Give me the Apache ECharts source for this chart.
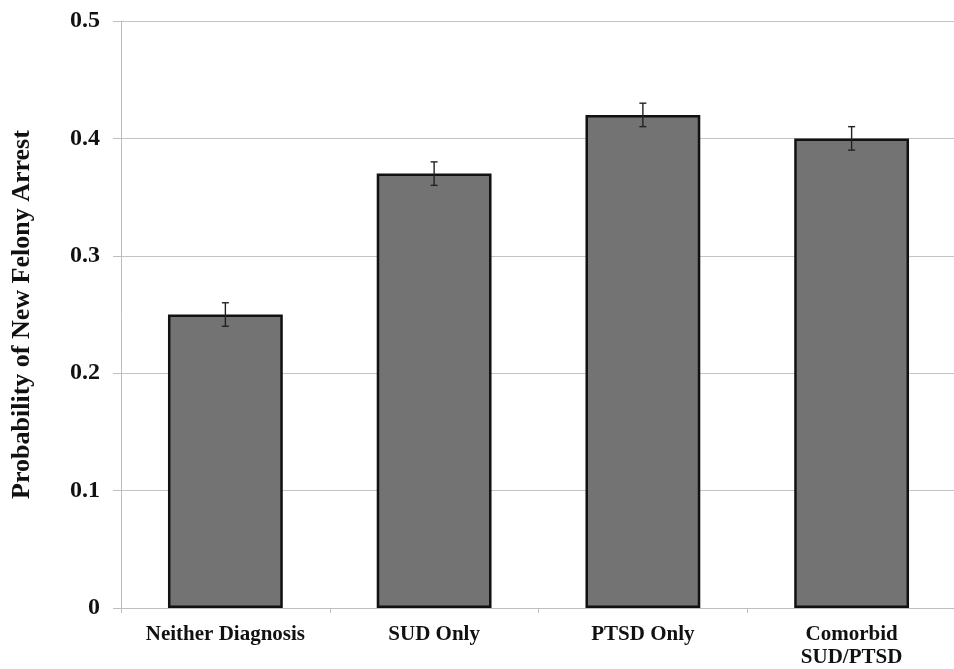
<!DOCTYPE html>
<html><head><meta charset="utf-8">
<script src="https://cdn.jsdelivr.net/npm/echarts@6/dist/echarts.min.js"></script>
<style>html,body{margin:0;padding:0;background:#fff}#c{width:954px;height:669px}</style>
</head><body><div id="c"></div>
<script>
const categories = ['Neither Diagnosis', 'SUD Only', 'PTSD Only', 'Comorbid\nSUD/PTSD'];
const probabilities = [0.25, 0.37, 0.42, 0.40];
const errors = [0.01, 0.01, 0.01, 0.01];
const yTicks = [0, 0.1, 0.2, 0.3, 0.4, 0.5];

const chart = echarts.init(document.getElementById('c'));
const font = '"Liberation Serif", "Times New Roman", serif';
chart.setOption({
  animation: false,
  grid: { left: 121, right: -2, top: 21, bottom: 61, outerBoundsMode: 'none' },
  xAxis: {
    type: 'category', data: categories,
    axisLine: { lineStyle: { color: '#bdbdbd', width: 1 } },
    axisTick: { show: true, length: 5, lineStyle: { color: '#bdbdbd' } },
    axisLabel: { color: '#111', fontFamily: font, fontWeight: 'bold', fontSize: 21, margin: 15, lineHeight: 23 }
  },
  yAxis: {
    type: 'value', min: 0, max: 0.5, interval: 0.1,
    name: 'Probability of New Felony Arrest', nameLocation: 'middle', nameGap: 86,
    nameTextStyle: { color: '#111', fontFamily: font, fontWeight: 'bold', fontSize: 26 },
    axisLine: { show: true, lineStyle: { color: '#bdbdbd' } },
    axisTick: { show: true, length: 8, lineStyle: { color: '#bdbdbd' } },
    splitLine: { lineStyle: { color: '#c4c4c4', width: 1 } },
    axisLabel: { color: '#111', fontFamily: font, fontWeight: 'bold', fontSize: 24, margin: 21,
      formatter: v => { const t = yTicks.find(x => Math.abs(x - v) < 1e-9); return t === 0 ? '0' : String(t); } }
  },
  series: [{
    type: 'bar', data: probabilities, barWidth: '55%',
    itemStyle: { color: '#737373', borderColor: '#111', borderWidth: 2.5 }
  }, {
    type: 'custom',
    data: probabilities.map((v, i) => [i, v - errors[i], v + errors[i]]),
    renderItem: function (params, api) {
      const lo = api.coord([api.value(0), api.value(1)]);
      const hi = api.coord([api.value(0), api.value(2)]);
      const w = 3.5;
      const st = { stroke: '#222', lineWidth: 1.4 };
      return { type: 'group', children: [
        { type: 'line', shape: { x1: hi[0], y1: hi[1], x2: lo[0], y2: lo[1] }, style: st },
        { type: 'line', shape: { x1: hi[0] - w, y1: hi[1], x2: hi[0] + w, y2: hi[1] }, style: st },
        { type: 'line', shape: { x1: lo[0] - w, y1: lo[1], x2: lo[0] + w, y2: lo[1] }, style: st }
      ]};
    },
    z: 10
  }]
});
</script></body></html>
